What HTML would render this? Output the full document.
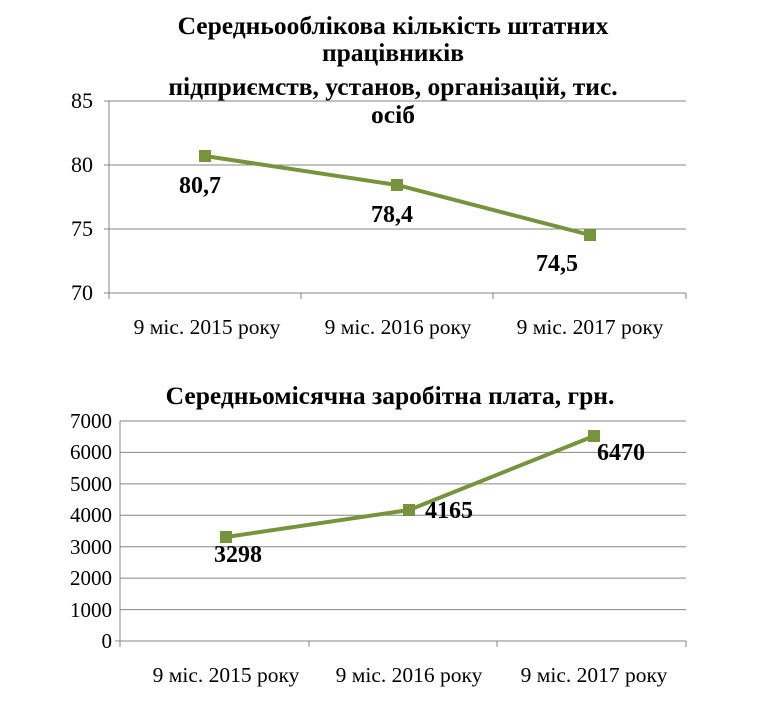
<!DOCTYPE html>
<html><head><meta charset="utf-8"><style>body{margin:0;background:#fff} svg text{font-family:"Liberation Serif","Times New Roman",serif}</style></head><body>
<svg width="765" height="714" xmlns="http://www.w3.org/2000/svg">
<g stroke="#868686" stroke-width="1">
<line x1="109" y1="101" x2="686" y2="101"/><line x1="109" y1="165" x2="686" y2="165"/><line x1="109" y1="229" x2="686" y2="229"/><line x1="104" y1="293" x2="686" y2="293"/>
<line x1="109" y1="101" x2="109" y2="299"/><line x1="104" y1="101" x2="109" y2="101"/><line x1="104" y1="165" x2="109" y2="165"/><line x1="104" y1="229" x2="109" y2="229"/>
<line x1="301" y1="293" x2="301" y2="299"/><line x1="493" y1="293" x2="493" y2="299"/><line x1="686" y1="293" x2="686" y2="299"/>
</g>
<g font-size="22" fill="#000" text-anchor="end">
<text x="93" y="108">85</text><text x="93" y="172">80</text><text x="93" y="236">75</text><text x="93" y="300">70</text></g>
<g font-size="21.5" text-anchor="middle"><text x="207" y="334">9 міс. 2015 року</text><text x="398" y="334">9 міс. 2016 року</text><text x="590" y="334">9 міс. 2017 року</text></g>
<g font-size="25.5" font-weight="bold" text-anchor="middle">
<text x="393" y="34">Середньооблікова кількість штатних</text>
<text x="393" y="61">працівників</text>
<text x="393" y="95">підприємств, установ, організацій, тис.</text>
<text x="393" y="123">осіб</text></g>
<polyline points="205,156 397,185 590,235" fill="none" stroke="#77933C" stroke-width="4"/>
<g fill="#77933C"><rect x="199" y="150" width="12" height="12"/><rect x="391" y="179" width="12" height="12"/><rect x="584" y="229" width="12" height="12"/></g>
<g font-size="24" font-weight="bold" text-anchor="middle"><text x="200" y="193">80,7</text><text x="392" y="222">78,4</text><text x="557" y="271">74,5</text></g>

<g stroke="#868686" stroke-width="1">
<line x1="120" y1="421" x2="686" y2="421"/><line x1="120" y1="452.4" x2="686" y2="452.4"/><line x1="120" y1="483.9" x2="686" y2="483.9"/><line x1="120" y1="515.3" x2="686" y2="515.3"/><line x1="120" y1="546.7" x2="686" y2="546.7"/><line x1="120" y1="578.1" x2="686" y2="578.1"/><line x1="120" y1="609.6" x2="686" y2="609.6"/><line x1="115" y1="641" x2="686" y2="641"/>
<line x1="120" y1="421" x2="120" y2="647"/>
<line x1="309" y1="641" x2="309" y2="647"/><line x1="497" y1="641" x2="497" y2="647"/><line x1="686" y1="641" x2="686" y2="647"/>
</g>
<g font-size="21" text-anchor="end"><text x="112" y="428">7000</text><text x="112" y="459">6000</text><text x="112" y="491">5000</text><text x="112" y="522">4000</text><text x="112" y="554">3000</text><text x="112" y="585">2000</text><text x="112" y="617">1000</text><text x="112" y="648">0</text></g>
<g font-size="21.5" text-anchor="middle"><text x="226" y="682">9 міс. 2015 року</text><text x="409" y="682">9 міс. 2016 року</text><text x="594" y="682">9 міс. 2017 року</text></g>
<text x="390" y="404" font-size="25.5" font-weight="bold" text-anchor="middle">Середньомісячна заробітна плата, грн.</text>
<polyline points="226,537 409,510 594,436" fill="none" stroke="#77933C" stroke-width="4"/>
<g fill="#77933C"><rect x="220" y="531" width="12" height="12"/><rect x="403" y="504" width="12" height="12"/><rect x="588" y="430" width="12" height="12"/></g>
<g font-size="24" font-weight="bold" text-anchor="middle"><text x="238" y="562">3298</text><text x="449" y="518">4165</text><text x="621" y="460">6470</text></g>
</svg>
</body></html>
